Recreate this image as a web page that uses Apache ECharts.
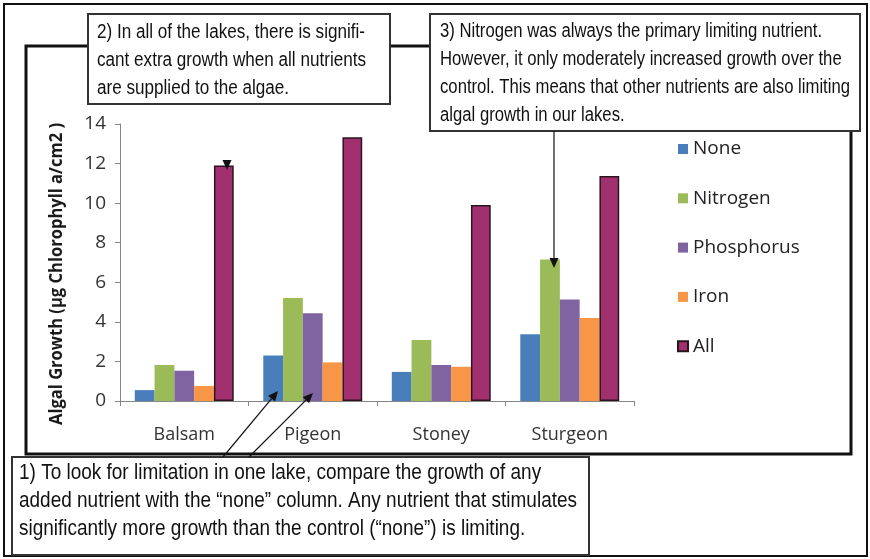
<!DOCTYPE html>
<html><head><meta charset="utf-8">
<script src="https://cdn.jsdelivr.net/npm/echarts@6/dist/echarts.min.js"></script>
<style>html,body{margin:0;padding:0;background:#fff}#c{width:870px;height:559px}</style>
</head><body><div id="c"></div>
<script>
// ---- data ----
const lakes = ['Balsam', 'Pigeon', 'Stoney', 'Sturgeon'];
const treatmentNames = ['None', 'Nitrogen', 'Phosphorus', 'Iron', 'All'];
const noneVals = [0.55, 2.3, 1.47, 3.37];
const nitrogenVals = [1.82, 5.2, 3.08, 7.15];
const phosphorusVals = [1.53, 4.43, 1.82, 5.13];
const ironVals = [0.76, 1.95, 1.73, 4.2];
const allVals = [11.9, 13.33, 9.9, 11.37];
const yMin = 0, yMax = 14, yStep = 2;
const yTitle = 'Algal Growth (\u00b5g Chlorophyll a/cm2 )';
const note1Lines = [
  '1) To look for limitation in one lake, compare the growth of any',
  'added nutrient with the \u201cnone\u201d column. Any nutrient that stimulates',
  'significantly more growth than the control (\u201cnone\u201d) is limiting.'
];
const note2Lines = [
  '2) In all of the lakes, there is signifi-',
  'cant extra growth when all nutrients',
  'are supplied to the algae.'
];
const note3Lines = [
  '3) Nitrogen was always the primary limiting nutrient.',
  'However, it only moderately increased growth over the',
  'control. This means that other nutrients are also limiting',
  'algal growth in our lakes.'
];

// ---- styles ----
const colors = ['#4A7EBB', '#9BBB59', '#8064A2', '#F79646', '#A2306F'];
const seriesVals = [noneVals, nitrogenVals, phosphorusVals, ironVals, allVals];

const ctx = document.createElement('canvas').getContext('2d');
function hasFont(f) {
  ctx.font = '40px monospace'; const a = ctx.measureText('abcdefghijklmnop WMi').width;
  ctx.font = '40px "' + f + '", monospace'; const b = ctx.measureText('abcdefghijklmnop WMi').width;
  return a !== b;
}
const noteFamily = hasFont('Liberation Sans Narrow') ? '"Liberation Sans Narrow"' : '"Liberation Sans"';
function measure(t, font) { ctx.font = font; return ctx.measureText(t).width; }

const titleFont = 'bold 17px "Open Sans"';
const titleScale = 302 / measure(yTitle, titleFont);

const graphics = [];
function box(x, y, w, h) {
  graphics.push({type: 'rect', shape: {x, y, width: w, height: h}, z: 50,
    style: {fill: '#fff', stroke: '#333', lineWidth: 2}});
}
function lines(arr, x, y0, dy, size, refIdx, refWidth) {
  const font = size + 'px ' + noteFamily;
  const sc = refWidth / measure(arr[refIdx], font);
  arr.forEach((t, i) => graphics.push({type: 'text', x: x, y: y0 + i * dy, scaleX: sc, z: 51,
    style: {text: t, font: font, fill: '#111', textVerticalAlign: 'middle', verticalAlign: 'middle'}}));
}
function arrow(sx, sy, tx, ty, showLine) {
  const dx = tx - sx, dy = ty - sy, L = Math.hypot(dx, dy), ux = dx / L, uy = dy / L;
  const hl = 10, hw = 4.5;
  const bx = tx - ux * hl, by = ty - uy * hl;
  if (showLine !== false) graphics.push({type: 'line', z: 52, shape: {x1: sx, y1: sy, x2: bx, y2: by}, style: {stroke: '#111', lineWidth: 1.2}});
  graphics.push({type: 'polygon', z: 52, shape: {points: [[tx, ty], [bx - uy * hw, by + ux * hw], [bx + uy * hw, by - ux * hw]]}, style: {fill: '#111'}});
}
// outer frame
graphics.push({type: 'rect', z: 1, shape: {x: 4, y: 4, width: 863, height: 552}, style: {fill: 'none', stroke: '#111', lineWidth: 2}});
// chart frame
graphics.push({type: 'rect', z: 2, shape: {x: 26, y: 46, width: 825, height: 408}, style: {fill: 'none', stroke: '#111', lineWidth: 3}});
box(88, 14, 302, 90);
lines(note2Lines, 97, 32, 28, 20, 1, 269);
box(430, 14, 430, 117);
lines(note3Lines, 440, 31, 28, 20, 2, 410);
box(12, 457, 577, 98);
lines(note1Lines, 19, 473, 28, 22, 1, 558);
arrow(223, 457, 278, 391);
arrow(249, 457, 313, 393);
arrow(554, 131, 554, 268);
arrow(227, 140, 227, 170, false);
graphics.push({type: 'text', x: 57, y: 274, rotation: Math.PI / 2, scaleX: titleScale, z: 20,
  style: {text: yTitle, font: titleFont, fill: '#1a1a1a', align: 'center', verticalAlign: 'middle', textAlign: 'center', textVerticalAlign: 'middle'}});

const chart = echarts.init(document.getElementById('c'), null, {renderer: 'canvas'});
chart.setOption({
  animation: false,
  backgroundColor: '#fff',
  grid: {left: 120, right: 236, top: 124, bottom: 158},
  legend: {
    orient: 'vertical', left: 672, top: 134, itemWidth: 10, itemHeight: 10, itemGap: 29.3,
    icon: 'rect',
    textStyle: {fontSize: 19, color: '#222', fontFamily: 'Open Sans', lineHeight: 20},
    data: treatmentNames
  },
  xAxis: {
    type: 'category', data: lakes,
    axisLine: {lineStyle: {color: '#868686'}},
    axisTick: {show: true, length: 5, lineStyle: {color: '#868686'}},
    axisLabel: {margin: 25, fontSize: 18, color: '#333', fontFamily: 'Open Sans'}
  },
  yAxis: {
    type: 'value', min: yMin, max: yMax, interval: yStep,
    splitLine: {show: false},
    axisLine: {show: true, lineStyle: {color: '#868686'}},
    axisTick: {show: true, length: 5, lineStyle: {color: '#868686'}},
    axisLabel: {margin: 14, fontSize: 19, color: '#333', fontFamily: 'Open Sans'}
  },
  series: treatmentNames.map((n, i) => ({
    name: n, type: 'bar', data: seriesVals[i],
    barGap: '0%', barCategoryGap: '23%',
    itemStyle: {color: colors[i], borderColor: i === 4 ? '#2b1420' : undefined, borderWidth: i === 4 ? 1.5 : 0}
  })),
  graphic: graphics
});
</script>
</body></html>
